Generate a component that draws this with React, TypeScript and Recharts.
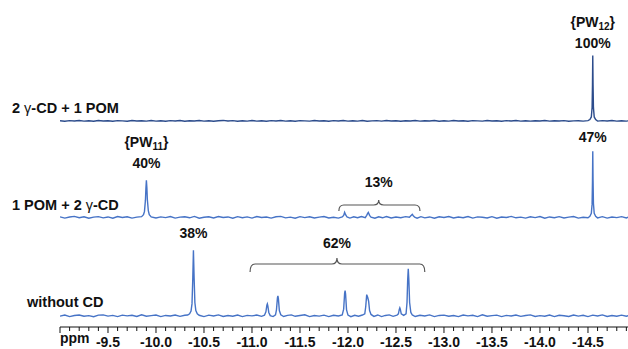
import React from 'react'
import { LineChart, Line, XAxis, YAxis, ReferenceDot } from 'recharts'

// 31P NMR traces: [ppm, intensity] (tallest peak of each trace ~100)
const withPom: [number, number][] = [
  [-9.0, 0.2], [-9.05, -0.5], [-9.1, 0.4], [-9.15, -0.2], [-9.2, 0.6], [-9.25, -0.4], [-9.3, 0.1], [-9.35, -0.6], [-9.4, 0.5], [-9.45, -0.1],
  [-9.5, 0.3], [-9.55, -0.5], [-9.6, 0.4], [-9.65, 0.0], [-9.7, -0.6], [-9.75, 0.5], [-9.8, -0.2], [-9.85, 0.3], [-9.9, -0.4], [-9.95, 0.6],
  [-10.0, -0.3], [-10.05, 0.2], [-10.1, -0.5], [-10.15, 0.4], [-10.2, -0.1], [-10.25, 0.5], [-10.3, -0.6], [-10.35, 0.2], [-10.4, -0.2], [-10.45, 0.6],
  [-10.5, -0.4], [-10.55, 0.1], [-10.6, -0.5], [-10.65, 0.3], [-10.7, 0.7], [-10.75, -0.2], [-10.8, 0.4], [-10.85, -0.5], [-10.9, 0.2], [-10.95, -0.3],
  [-11.0, 0.5], [-11.05, -0.4], [-11.1, 0.1], [-11.15, -0.6], [-11.2, 0.4], [-11.25, -0.1], [-11.3, 0.6], [-11.35, -0.3], [-11.4, 0.2], [-11.45, -0.5],
  [-11.5, 0.4], [-11.55, 0.0], [-11.6, -0.4], [-11.65, 0.5], [-11.7, -0.2], [-11.75, 0.3], [-11.8, -0.6], [-11.85, 0.4], [-11.9, -0.1], [-11.95, 0.5],
  [-12.0, -0.4], [-12.05, 0.2], [-12.1, -0.3], [-12.15, 0.6], [-12.2, -0.5], [-12.25, 0.1], [-12.3, 0.4], [-12.35, -0.3], [-12.4, 0.5], [-12.45, -0.2],
  [-12.5, 0.3], [-12.55, -0.6], [-12.6, 0.2], [-12.65, -0.1], [-12.7, 0.5], [-12.75, -0.4], [-12.8, 0.3], [-12.85, -0.2], [-12.9, 0.6], [-12.95, -0.5],
  [-13.0, 0.1], [-13.05, -0.3], [-13.1, 0.5], [-13.15, -0.1], [-13.2, 0.3], [-13.25, -0.6], [-13.3, 0.4], [-13.35, 0.0], [-13.4, -0.4], [-13.45, 0.5],
  [-13.5, -0.2], [-13.55, 0.2], [-13.6, -0.5], [-13.65, 0.4], [-13.7, -0.1], [-13.75, 0.6], [-13.8, -0.3], [-13.85, 0.2], [-13.9, -0.4], [-13.95, 0.3],
  [-14.0, -0.1], [-14.05, 0.5], [-14.1, -0.4], [-14.15, 0.2], [-14.2, -0.2], [-14.25, 0.4], [-14.3, -0.5], [-14.35, 0.1], [-14.4, 0.3], [-14.45, -0.3],
  [-14.5, 0.4], [-14.52, 2], [-14.535, 6], [-14.543, 20], [-14.547, 55], [-14.55, 99], [-14.553, 55], [-14.557, 20], [-14.565, 6], [-14.58, 2],
  [-14.6, -0.3], [-14.65, 0.4], [-14.7, -0.2], [-14.75, 0.5], [-14.8, -0.4], [-14.85, 0.2], [-14.9, -0.3], [-14.92, 0.1],
]

const pomFirst: [number, number][] = [
  [-9.0, 0.8], [-9.05, -1.2], [-9.1, 0.5], [-9.15, 1.4], [-9.2, -0.6], [-9.25, 0.9], [-9.3, -1.4], [-9.35, 0.3], [-9.4, 1.1], [-9.45, -0.8],
  [-9.5, 0.6], [-9.55, -1.3], [-9.6, 1.2], [-9.65, -0.2], [-9.7, 0.9], [-9.75, -1.1], [-9.8, 0.4], [-9.85, 1.0],
  [-9.87, 4], [-9.88, 9], [-9.89, 26], [-9.895, 44], [-9.9, 56], [-9.905, 45], [-9.91, 27], [-9.92, 10], [-9.93, 4], [-9.95, 0.6],
  [-10.0, -1.0], [-10.05, 0.7], [-10.1, -0.4], [-10.15, 1.3], [-10.2, -1.2], [-10.25, 0.3], [-10.3, 0.9], [-10.35, -0.7], [-10.4, 1.4], [-10.45, -1.3],
  [-10.5, 0.2], [-10.55, 0.8], [-10.6, -0.9], [-10.65, 1.2], [-10.7, -0.3], [-10.75, 0.6], [-10.8, -1.4], [-10.85, 1.0], [-10.9, -0.5], [-10.95, 0.7],
  [-11.0, -1.1], [-11.05, 1.3], [-11.1, -0.2], [-11.15, 0.5], [-11.2, -1.2], [-11.25, 0.9], [-11.3, 1.5], [-11.35, -0.8], [-11.4, 0.3], [-11.45, -1.3],
  [-11.5, 1.1], [-11.55, -0.4], [-11.6, 0.8], [-11.65, -1.0], [-11.7, 0.4], [-11.75, 1.2], [-11.8, -0.9], [-11.85, 0.2], [-11.9, -1.2], [-11.94, 0.6],
  [-11.955, 3], [-11.965, 7.5], [-11.975, 4], [-11.99, 0.5],
  [-12.02, -1.1], [-12.06, 0.9], [-12.1, -0.5], [-12.14, 1.2], [-12.18, -0.6], [-12.195, 3], [-12.205, 6], [-12.212, 7.5], [-12.225, 3], [-12.24, 0.2],
  [-12.28, -1.3], [-12.32, 0.8], [-12.36, -0.7], [-12.4, 1.3], [-12.45, -1.0], [-12.5, 0.5], [-12.55, -0.6], [-12.6, 1.1], [-12.64, 0.2],
  [-12.655, 2.5], [-12.67, 4.5], [-12.68, 2.5], [-12.695, 0.1], [-12.72, -1.2], [-12.76, 1.0], [-12.8, -0.8], [-12.85, 0.6], [-12.9, -1.4], [-12.95, 0.9],
  [-13.0, -0.3], [-13.05, 1.2], [-13.1, -1.0], [-13.15, 0.4], [-13.2, -0.6], [-13.25, 1.3], [-13.3, -1.2], [-13.35, 0.7], [-13.4, 0.1], [-13.45, -0.9],
  [-13.5, 1.1], [-13.55, -1.3], [-13.6, 0.5], [-13.65, -0.2], [-13.7, 1.4], [-13.75, -0.7], [-13.8, 0.3], [-13.85, -1.1], [-13.9, 0.9], [-13.95, -0.4],
  [-14.0, 1.2], [-14.05, -1.3], [-14.1, 0.6], [-14.15, -0.5], [-14.2, 1.0], [-14.25, -0.9], [-14.3, 0.4], [-14.35, 1.3], [-14.4, -1.1], [-14.45, 0.2],
  [-14.5, -0.6], [-14.52, 1.5], [-14.535, 6], [-14.543, 20], [-14.547, 55], [-14.55, 100], [-14.553, 56], [-14.557, 21], [-14.565, 6], [-14.58, 1.6],
  [-14.6, -0.8], [-14.65, 1.0], [-14.7, -1.2], [-14.75, 0.5], [-14.8, -0.4], [-14.85, 1.1], [-14.9, -0.9], [-14.92, 0.3],
]

const noCd: [number, number][] = [
  [-9.0, -0.6], [-9.05, 1.1], [-9.1, -1.3], [-9.15, 0.4], [-9.2, 1.2], [-9.25, -0.8], [-9.3, 0.2], [-9.35, -1.4], [-9.4, 0.9], [-9.45, 1.3],
  [-9.5, -0.5], [-9.55, 0.6], [-9.6, -1.2], [-9.65, 1.0], [-9.7, -0.2], [-9.75, 0.8], [-9.8, -1.1], [-9.85, 1.4], [-9.9, -0.7], [-9.95, 0.3],
  [-10.0, 1.1], [-10.05, -1.3], [-10.1, 0.5], [-10.15, -0.4], [-10.2, 1.2], [-10.25, -0.9], [-10.3, 0.7], [-10.33, 1.2],
  [-10.35, 3], [-10.365, 7], [-10.375, 18], [-10.383, 55], [-10.39, 99], [-10.397, 58], [-10.405, 20], [-10.415, 8], [-10.43, 3], [-10.45, 0.8],
  [-10.5, -1.2], [-10.55, 0.9], [-10.6, -0.3], [-10.65, 1.3], [-10.7, -1.0], [-10.75, 0.4], [-10.8, -0.8], [-10.85, 1.2], [-10.9, -1.3], [-10.95, 0.6],
  [-11.0, -0.2], [-11.05, 1.1], [-11.1, -0.9], [-11.13, 0.8],
  [-11.145, 6], [-11.155, 16], [-11.16, 18], [-11.165, 15], [-11.175, 5], [-11.19, 0.2], [-11.22, -1.2],
  [-11.245, 1.5], [-11.255, 9], [-11.265, 27], [-11.27, 30], [-11.275, 26], [-11.285, 8], [-11.3, 1.5],
  [-11.33, -1.1], [-11.37, 0.6], [-11.41, 1.3], [-11.45, -0.8], [-11.5, 0.4], [-11.55, 1.5], [-11.6, -1.2], [-11.65, 0.3], [-11.7, -0.5], [-11.75, 1.0],
  [-11.8, -1.3], [-11.85, 0.7], [-11.9, -0.4], [-11.94, 1.2],
  [-11.955, 10], [-11.965, 34], [-11.97, 38], [-11.975, 33], [-11.985, 9], [-12.0, 1.0],
  [-12.03, -1.3], [-12.07, 0.8], [-12.11, -0.6], [-12.15, 1.1], [-12.175, 3],
  [-12.185, 14], [-12.195, 32], [-12.205, 28], [-12.215, 22], [-12.225, 8], [-12.24, 2],
  [-12.27, -0.9], [-12.31, 1.2], [-12.35, -1.2], [-12.39, 0.5], [-12.43, 1.3], [-12.47, -0.8], [-12.51, 0.9],
  [-12.525, 3], [-12.535, 10], [-12.54, 12], [-12.545, 10], [-12.555, 3], [-12.58, 0.6], [-12.605, 3],
  [-12.615, 20], [-12.622, 55], [-12.628, 71], [-12.634, 54], [-12.642, 20], [-12.655, 5], [-12.67, 1.2],
  [-12.7, -1.1], [-12.75, 0.7], [-12.8, -0.4], [-12.85, 1.3], [-12.9, -1.2], [-12.95, 0.5],
  [-13.0, 1.0], [-13.05, -0.8], [-13.1, 0.3], [-13.15, -1.3], [-13.2, 1.1], [-13.25, -0.2], [-13.3, 0.8], [-13.35, -1.2], [-13.4, 1.4], [-13.45, -0.6],
  [-13.5, 0.2], [-13.55, 1.0], [-13.6, -1.3], [-13.65, 0.6], [-13.7, -0.4], [-13.75, 1.2], [-13.8, -0.9], [-13.85, 0.4], [-13.9, 1.3], [-13.95, -1.1],
  [-14.0, 0.2], [-14.05, -0.7], [-14.1, 1.2], [-14.15, -1.3], [-14.2, 0.8], [-14.25, 0.1], [-14.3, -1.0], [-14.35, 1.1], [-14.4, -0.5], [-14.45, 0.7],
  [-14.5, -1.2], [-14.55, 0.9], [-14.6, -0.3], [-14.65, 1.3], [-14.7, -1.1], [-14.75, 0.4], [-14.8, -0.7], [-14.85, 1.0], [-14.9, -0.6], [-14.92, 0.3],
]

const traceNames = ['2 γ-CD + 1 POM', '1 POM + 2 γ-CD', 'without CD']
const tickLabels = [-9.5, -10.0, -10.5, -11.0, -11.5, -12.0, -12.5, -13.0, -13.5, -14.0, -14.5]

// layout
const W = 628
const H = 349
const LEFT = 60
const AXIS_H = 22
const PLOT_H = H - AXIS_H
const Y_MAX = 495
const X_DOMAIN: [number, number] = [-14.917, -9.0]
const PX_PER_PPM = (W - LEFT) / (X_DOMAIN[1] - X_DOMAIN[0])
const py = (px: number) => ((PLOT_H - px) * Y_MAX) / PLOT_H // pixel row -> y value

const offsets = [312, 166, 17]
const colors = ['#2c4c8c', '#4673c6', '#4673c6']
const font = '"Liberation Sans", Arial, Helvetica, sans-serif'

const shift = (pts: [number, number][], off: number) => pts.map(([ppm, v]) => ({ ppm, v: v + off }))
const series = [withPom, pomFirst, noCd].map((s, i) => shift(s, offsets[i]))

const minorTicks: number[] = []
for (let i = 0; i <= 59; i++) minorTicks.push(Math.round((-9.0 - i * 0.1) * 10) / 10)

const AxisTick = (props: any) => {
  const { x, y, payload } = props
  const v = payload.value
  const major = tickLabels.some((t) => Math.abs(t - v) < 1e-6) || v === -9
  return (
    <g>
      <line x1={x} x2={x} y1={y} y2={y + (major ? 6 : 4)} stroke="#111" strokeWidth={1} />
      {v === -9 && (
        <text x={x} y={y + 16} fontFamily={font} fontWeight="bold" fontSize={14} fill="#111">ppm</text>
      )}
      {v !== -9 && major && (
        <text x={x} y={y + 20} textAnchor="middle" fontFamily={font} fontWeight="bold" fontSize={14} fill="#111">
          {v.toFixed(1)}
        </text>
      )}
    </g>
  )
}

// text annotations: [ppm, pixel row of baseline, text, sub]
const peakLabels: { ppm: number; row: number; text: string; sub?: string }[] = [
  { ppm: -14.55, row: 27, text: '{PW', sub: '12' },
  { ppm: -14.55, row: 48, text: '100%' },
  { ppm: -14.55, row: 142, text: '47%' },
  { ppm: -9.9, row: 147, text: '{PW', sub: '11' },
  { ppm: -9.9, row: 168, text: '40%' },
  { ppm: -10.39, row: 238, text: '38%' },
  { ppm: -11.885, row: 248, text: '62%' },
  { ppm: -12.32, row: 187, text: '13%' },
]

const braces = [
  { from: -10.98, to: -12.8, tip: -11.885, row: 264, up: 6, down: 8 },
  { from: -11.905, to: -12.75, tip: -12.32, row: 205, up: 5, down: 6 },
]

const traceLabelRows = [113, 210, 307]
const traceLabelX = [12, 12, 27]

const Brace = ({ cx, cy, left, right, up, down }: any) => {
  const x0 = cx - left
  const x1 = cx + right
  const r = 5
  const d = `M${x0},${cy + down} Q${x0},${cy} ${x0 + r},${cy} L${cx - r},${cy} Q${cx},${cy} ${cx},${cy - up} Q${cx},${cy} ${cx + r},${cy} L${x1 - r},${cy} Q${x1},${cy} ${x1},${cy + down}`
  return <path d={d} fill="none" stroke="#555" strokeWidth={1.2} />
}

export default function App() {
  return (
    <div style={{ position: 'absolute', left: 0, top: 0, width: W, height: H, background: '#fff' }}>
      <LineChart width={W} height={H} margin={{ top: 0, right: 0, left: LEFT, bottom: 0 }}>
        <XAxis
          type="number"
          dataKey="ppm"
          domain={X_DOMAIN}
          reversed
          allowDataOverflow
          ticks={minorTicks}
          interval={0}
          tick={<AxisTick />}
          tickLine={false}
          tickSize={0}
          tickMargin={0}
          height={AXIS_H}
          axisLine={{ stroke: '#111', strokeWidth: 1 }}
        />
        <YAxis hide domain={[0, Y_MAX]} allowDataOverflow />
        {series.map((d, i) => (
          <Line
            key={i}
            data={d}
            dataKey="v"
            type="linear"
            stroke={colors[i]}
            strokeWidth={1.4}
            dot={false}
            isAnimationActive={false}
          />
        ))}
        {traceNames.map((name, i) => (
          <ReferenceDot
            key={name}
            x={-9.0}
            y={py(traceLabelRows[i])}
            ifOverflow="visible"
            shape={(p: any) => (
              <text x={traceLabelX[i]} y={p.cy} fontFamily={font} fontWeight="bold" fontSize={14.5} fill="#111">
                {name.split('γ').map((part, k) =>
                  k === 0 ? part : (
                    <React.Fragment key={k}>
                      <tspan fontWeight="normal">γ</tspan>
                      {part}
                    </React.Fragment>
                  ),
                )}
              </text>
            )}
          />
        ))}
        {peakLabels.map((l, i) => (
          <ReferenceDot
            key={i}
            x={l.ppm}
            y={py(l.row)}
            ifOverflow="visible"
            shape={(p: any) => (
              <text x={p.cx} y={p.cy} textAnchor="middle" fontFamily={font} fontWeight="bold" fontSize={14} fill="#111">
                {l.text}
                {l.sub && (
                  <>
                    <tspan fontSize={10} dy={3}>{l.sub}</tspan>
                    <tspan dy={-3}>{'}'}</tspan>
                  </>
                )}
              </text>
            )}
          />
        ))}
        {braces.map((b, i) => (
          <ReferenceDot
            key={'b' + i}
            x={b.tip}
            y={py(b.row)}
            ifOverflow="visible"
            shape={(p: any) => (
              <Brace
                cx={p.cx}
                cy={p.cy}
                left={(b.from - b.tip) * PX_PER_PPM}
                right={(b.tip - b.to) * PX_PER_PPM}
                up={b.up}
                down={b.down}
              />
            )}
          />
        ))}
      </LineChart>
    </div>
  )
}
